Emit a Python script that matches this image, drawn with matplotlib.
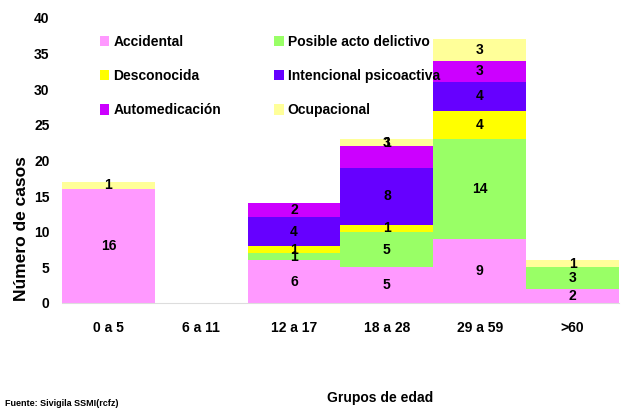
import matplotlib
matplotlib.use("Agg")
import matplotlib.pyplot as plt
import numpy as np
from matplotlib.patches import Patch

grupos = ["0 a 5", "6 a 11", "12 a 17", "18 a 28", "29 a 59", ">60"]

accidental = [16, 0, 6, 5, 9, 2]
posible = [0, 0, 1, 5, 14, 3]
desconocida = [0, 0, 1, 1, 4, 0]
intencional = [0, 0, 4, 8, 4, 0]
automedicacion = [0, 0, 2, 3, 3, 0]
ocupacional = [1, 0, 0, 1, 3, 1]

series = [
    ("Accidental", accidental, "#FF99FF"),
    ("Posible acto delictivo", posible, "#99FF66"),
    ("Desconocida", desconocida, "#FFFF00"),
    ("Intencional psicoactiva", intencional, "#6600FF"),
    ("Automedicación", automedicacion, "#CC00FF"),
    ("Ocupacional", ocupacional, "#FFFF99"),
]

plt.rcParams['font.family'] = ['Liberation Sans', 'DejaVu Sans']

fig = plt.figure(figsize=(6.23, 4.08), dpi=100)
ax = fig.add_axes([0.0995, 0.2574, 0.894, 0.6985])

x = np.arange(len(grupos))
bottom = np.zeros(len(grupos))
for name, vals, col in series:
    vals = np.array(vals, dtype=float)
    ax.bar(x, vals, width=1.0, bottom=bottom, color=col, edgecolor="none", label=name)
    for i in range(len(grupos)):
        if vals[i] > 0:
            yc = bottom[i] + vals[i] / 2
            # en el original la etiqueta de automedicacion 18 a 28 queda encima
            if name == "Automedicación" and i == 3:
                yc = bottom[i] + vals[i] + 0.5
            ax.text(x[i], yc, "%d" % vals[i], ha="center", va="center",
                    fontsize=10, fontweight="bold", color="black")
    bottom += vals

ax.set_xlim(-0.5, 5.5)
ax.set_ylim(0, 40)
ax.set_yticks(range(0, 41, 5))
ax.set_xticks(x)
ax.set_xticklabels(grupos, fontsize=10, fontweight="bold")
for lab in ax.get_yticklabels():
    lab.set_fontweight("bold")
    lab.set_fontsize(10)
ax.tick_params(axis="both", length=0)
ax.tick_params(axis="x", pad=13)
ax.tick_params(axis="y", pad=9)
for s in ["top", "right", "left"]:
    ax.spines[s].set_visible(False)
ax.spines["bottom"].set_color("#dddddd")

fig.text(0.034, 0.44, "Número de casos", rotation=90, ha="center", va="center",
         fontsize=12.5, fontweight="bold")

handles = [Patch(facecolor=c, edgecolor="none") for n, v, c in series]
names = [n for n, v, c in series]
order = [0, 2, 4, 1, 3, 5]
ax.legend([handles[i] for i in order], [names[i] for i in order], ncol=2,
          loc="upper left", bbox_to_anchor=(0.045, 0.985), frameon=False,
          prop={"size": 10, "weight": "bold"}, handlelength=0.7, handleheight=0.8,
          handletextpad=0.3, labelspacing=1.45, columnspacing=3.8)

fig.text(0.61, 0.015, "Grupos de edad", ha="center", fontsize=10, fontweight="bold")
fig.text(0.008, 0.005, "Fuente: Sivigila SSMI(rcfz)", fontsize=6.5, fontweight="bold")

fig.savefig("out.png", dpi=100)
